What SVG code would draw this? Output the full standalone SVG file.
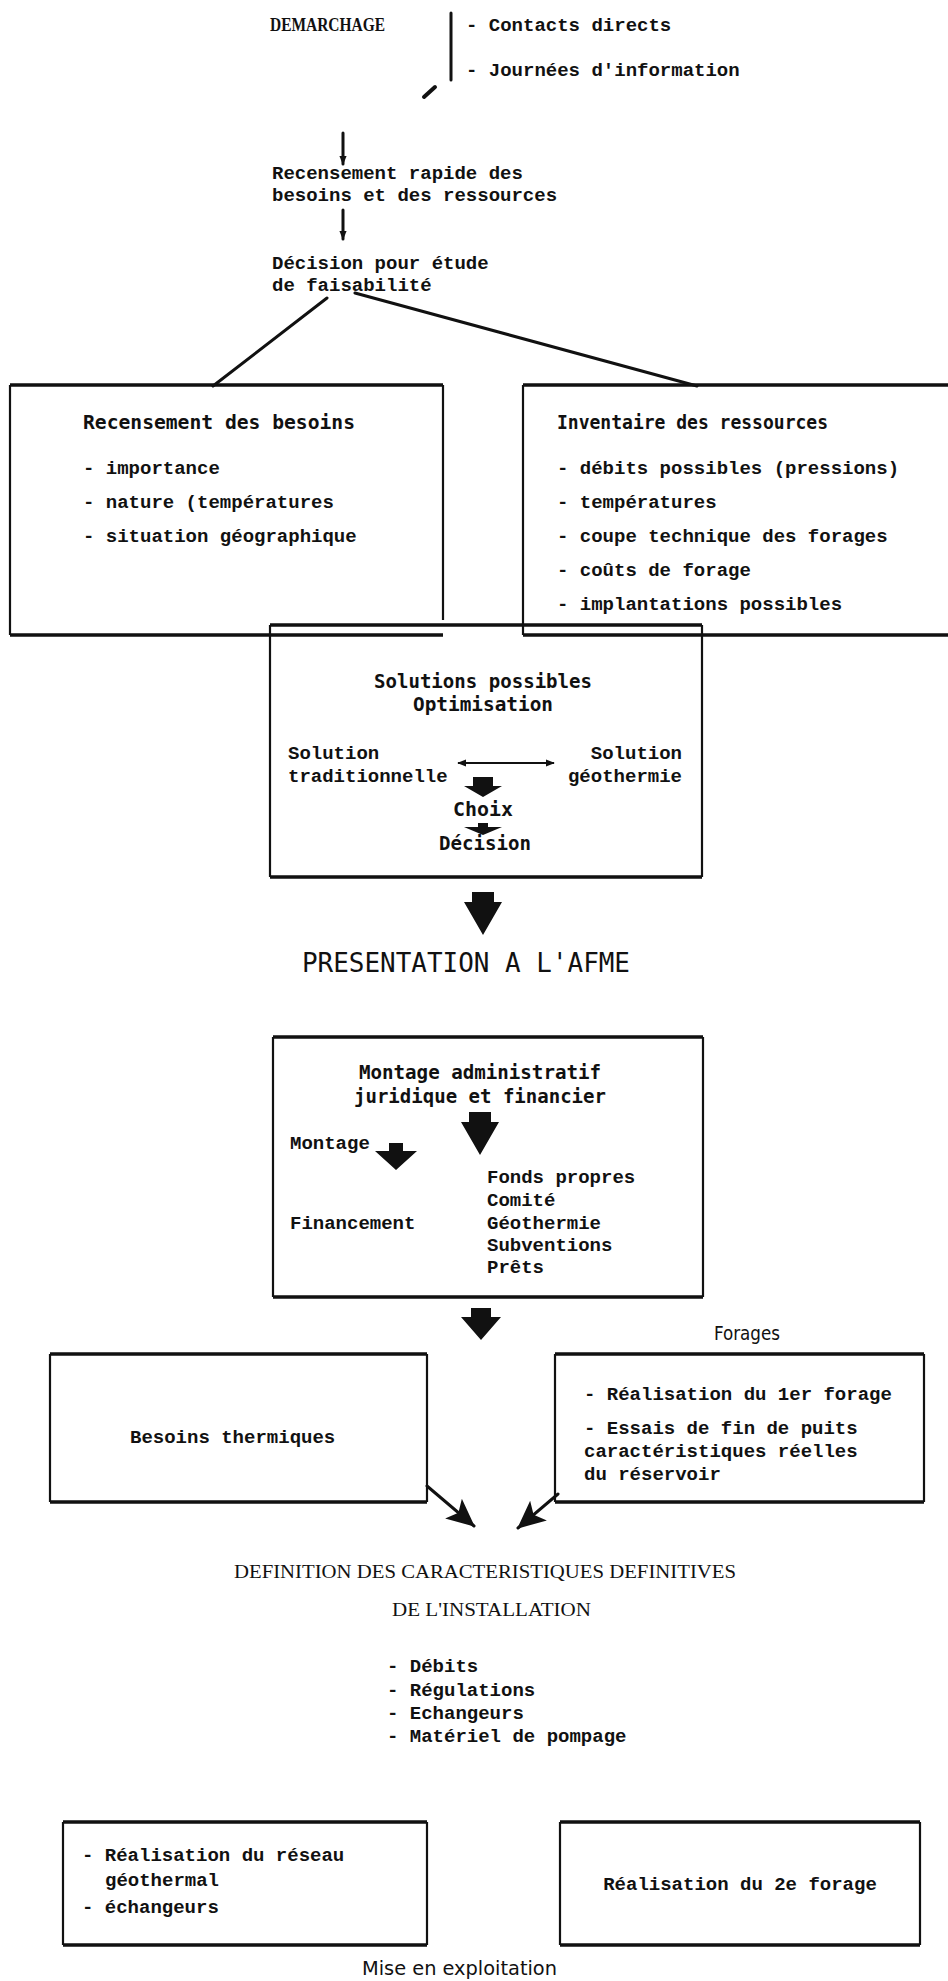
<svg xmlns="http://www.w3.org/2000/svg" width="948" height="1981" viewBox="0 0 948 1981">
<defs>
<style>
.tw{font-family:"Liberation Mono","DejaVu Sans Mono",monospace;font-weight:bold;font-size:19px;fill:#111}
.hd{font-family:"DejaVu Sans Mono","Liberation Mono",monospace;font-weight:bold;font-size:19px;fill:#111}
.lt{font-family:"DejaVu Sans Condensed","DejaVu Sans",sans-serif;font-size:19px;fill:#111}
.mono{font-family:"DejaVu Sans Mono","Liberation Mono",monospace;font-size:26px;fill:#111}
.serif{font-family:"Liberation Serif","DejaVu Serif",serif;font-size:19px;fill:#111}
.h{stroke:#111;stroke-width:3.5;fill:none}
.v{stroke:#111;stroke-width:2.2;fill:none}
.ln{stroke:#111;stroke-width:3;fill:none;stroke-linecap:round}
.thin{stroke:#111;stroke-width:2;fill:none}
.blk{fill:#111}
</style>
<marker id="ah" viewBox="0 0 10 10" refX="9" refY="5" markerWidth="9" markerHeight="9" markerUnits="userSpaceOnUse" orient="auto-start-reverse"><path d="M0,1 L10,5 L0,9 z" fill="#111"/></marker>
<marker id="big" viewBox="0 0 26 26" refX="25" refY="13" markerWidth="28" markerHeight="28" markerUnits="userSpaceOnUse" orient="auto"><path d="M0,1 L26,13 L0,25 L6,13 z" fill="#111"/></marker>
<path id="arrBig" d="M-11,0 H11 V10 H19 L0,43 L-19,10 H-11 Z"/>
<path id="arrMid" d="M-10,0 H10 V9 H20 L0,32 L-20,9 H-10 Z"/>
<path id="arrSm" d="M-7,0 H7 V8 H21 L0,27 L-21,8 H-7 Z"/>
<path id="arrStub" d="M-10,0 H10 V9 H19 L0,20 L-19,9 H-10 Z"/>
<path id="arrFlat" d="M-5,0 H5 V4 H19 L0,12 L-19,4 H-5 Z"/>
</defs>
<rect width="948" height="1981" fill="#fff"/>

<g id="demarchage">
<text class="serif" font-weight="bold" font-size="21" x="270" y="31" textLength="115" lengthAdjust="spacingAndGlyphs">DEMARCHAGE</text>
<line class="ln" x1="451" y1="13" x2="451" y2="80"/>
<text class="tw" x="466" y="31">- Contacts directs</text>
<text class="tw" x="466" y="76">- Journées d'information</text>
<line x1="424" y1="97" x2="435" y2="87" stroke="#111" stroke-width="4" stroke-linecap="round"/>
</g>

<g id="recensement-rapide">
<text class="tw" x="272" y="179">Recensement rapide des</text>
<text class="tw" x="272" y="201">besoins et des ressources</text>
</g>

<g id="decision-etude">
<text class="tw" x="272" y="269">Décision pour étude</text>
<text class="tw" x="272" y="291">de faisabilité</text>
</g>

<g id="recensement-besoins">
<path class="h" d="M10,385H443M10,635H443"/>
<path class="v" d="M10,385V635M443,385V620"/>
<text class="hd" x="83" y="429" textLength="272" lengthAdjust="spacingAndGlyphs">Recensement des besoins</text>
<text class="tw" x="83" y="474">- importance</text>
<text class="tw" x="83" y="508">- nature (températures</text>
<text class="tw" x="83" y="542">- situation géographique</text>
</g>

<g id="inventaire-ressources">
<path class="h" d="M523,385H948M523,635H948"/>
<path class="v" d="M523,385V635"/>
<text class="hd" x="557" y="429" textLength="271" lengthAdjust="spacingAndGlyphs">Inventaire des ressources</text>
<text class="tw" x="557" y="474">- débits possibles (pressions)</text>
<text class="tw" x="557" y="508">- températures</text>
<text class="tw" x="557" y="542">- coupe technique des forages</text>
<text class="tw" x="557" y="576">- coûts de forage</text>
<text class="tw" x="557" y="610">- implantations possibles</text>
</g>

<g id="solutions">
<path class="h" d="M270,625H702M270,877H702"/>
<path class="v" d="M270,625V877M702,625V877"/>
<text class="hd" x="483" y="688" text-anchor="middle" textLength="218" lengthAdjust="spacingAndGlyphs">Solutions possibles</text>
<text class="hd" x="483" y="711" text-anchor="middle" textLength="140" lengthAdjust="spacingAndGlyphs">Optimisation</text>
<text class="tw" x="288" y="759">Solution</text>
<text class="tw" x="288" y="782">traditionnelle</text>
<text class="tw" x="682" y="759" text-anchor="end">Solution</text>
<text class="tw" x="682" y="782" text-anchor="end">géothermie</text>
<text class="hd" x="483" y="816" text-anchor="middle" textLength="60" lengthAdjust="spacingAndGlyphs">Choix</text>
<text class="hd" x="485" y="850" text-anchor="middle" textLength="92" lengthAdjust="spacingAndGlyphs">Décision</text>
</g>

<g id="presentation-afme">
<text class="mono" x="302" y="972" textLength="328" lengthAdjust="spacingAndGlyphs">PRESENTATION A L'AFME</text>
</g>

<g id="montage">
<path class="h" d="M273,1037H703M273,1297H703"/>
<path class="v" d="M273,1037V1297M703,1037V1297"/>
<text class="hd" x="480" y="1079" text-anchor="middle" textLength="242" lengthAdjust="spacingAndGlyphs">Montage administratif</text>
<text class="hd" x="480" y="1103" text-anchor="middle" textLength="252" lengthAdjust="spacingAndGlyphs">juridique et financier</text>
<text class="tw" x="290" y="1149">Montage</text>
<text class="tw" x="290" y="1229">Financement</text>
<text class="tw" x="487" y="1183">Fonds propres</text>
<text class="tw" x="487" y="1206">Comité</text>
<text class="tw" x="487" y="1229">Géothermie</text>
<text class="tw" x="487" y="1251">Subventions</text>
<text class="tw" x="487" y="1273">Prêts</text>
</g>

<g id="forages-label">
<text class="lt" x="714" y="1340" textLength="66" lengthAdjust="spacingAndGlyphs">Forages</text>
</g>

<g id="besoins-thermiques">
<path class="h" d="M50,1354H427M50,1502H427"/>
<path class="v" d="M50,1354V1502M427,1354V1502"/>
<text class="tw" x="130" y="1443">Besoins thermiques</text>
</g>

<g id="forages">
<path class="h" d="M555,1354H924M555,1502H924"/>
<path class="v" d="M555,1354V1502M924,1354V1502"/>
<text class="tw" x="584" y="1400">- Réalisation du 1er forage</text>
<text class="tw" x="584" y="1434">- Essais de fin de puits</text>
<text class="tw" x="584" y="1457">caractéristiques réelles</text>
<text class="tw" x="584" y="1480">du réservoir</text>
</g>

<g id="definition">
<text class="serif" x="234" y="1578" textLength="502" lengthAdjust="spacingAndGlyphs">DEFINITION DES CARACTERISTIQUES DEFINITIVES</text>
<text class="serif" x="392" y="1616" textLength="199" lengthAdjust="spacingAndGlyphs">DE L'INSTALLATION</text>
<text class="tw" x="387" y="1672">- Débits</text>
<text class="tw" x="387" y="1696">- Régulations</text>
<text class="tw" x="387" y="1719">- Echangeurs</text>
<text class="tw" x="387" y="1742">- Matériel de pompage</text>
</g>

<g id="reseau">
<path class="h" d="M63,1822H427M63,1945H427"/>
<path class="v" d="M63,1822V1945M427,1822V1945"/>
<text class="tw" x="82" y="1861">- Réalisation du réseau</text>
<text class="tw" x="105" y="1886">géothermal</text>
<text class="tw" x="82" y="1913">- échangeurs</text>
</g>

<g id="forage2">
<path class="h" d="M560,1822H920M560,1945H920"/>
<path class="v" d="M560,1822V1945M920,1822V1945"/>
<text class="tw" x="740" y="1890" text-anchor="middle">Réalisation du 2e forage</text>
</g>

<g id="mise-en-exploitation">
<text class="lt" x="362" y="1975" textLength="195" lengthAdjust="spacingAndGlyphs">Mise en exploitation</text>
</g>

<g id="connectors">
<line class="ln" x1="343" y1="133" x2="343" y2="164" marker-end="url(#ah)"/>
<line class="ln" x1="343" y1="210" x2="343" y2="239" marker-end="url(#ah)"/>
<line class="ln" x1="327" y1="298" x2="213" y2="386"/>
<line class="ln" x1="355" y1="293" x2="697" y2="386"/>
<line class="thin" x1="458" y1="763" x2="554" y2="763" marker-start="url(#ah)" marker-end="url(#ah)"/>
<use href="#arrStub" class="blk" x="483" y="777"/>
<use href="#arrFlat" class="blk" x="483" y="823"/>
<use href="#arrBig" class="blk" x="483" y="892"/>
<use href="#arrBig" class="blk" x="480" y="1112"/>
<use href="#arrSm" class="blk" x="396" y="1143"/>
<use href="#arrMid" class="blk" x="481" y="1308"/>
<line class="ln" x1="427" y1="1486" x2="474" y2="1526" stroke-width="4" marker-end="url(#big)"/>
<line class="ln" x1="558" y1="1494" x2="518" y2="1528" stroke-width="4" marker-end="url(#big)"/>
</g>
</svg>
